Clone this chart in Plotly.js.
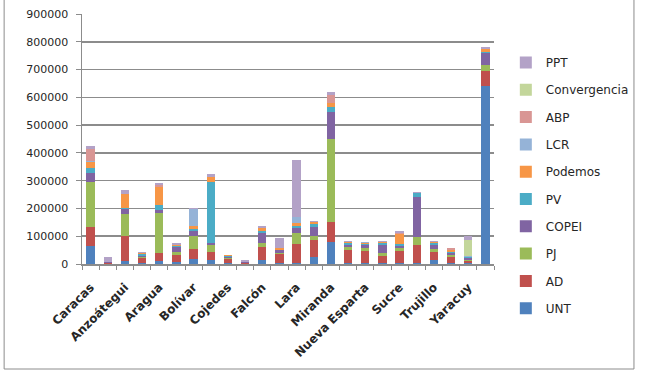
<!DOCTYPE html>
<html>
<head>
<meta charset="utf-8">
<script src="https://cdn.plot.ly/plotly-3.0.1.min.js"></script>
<style>
html,body{margin:0;padding:0;background:#fff;}
#chart{width:646px;height:373px;}
</style>
</head>
<body>
<div id="chart"></div>
<script>
const states = ["Caracas","Amazonas","Anzoátegui","Apure","Aragua","Barinas","Bolívar","Carabobo","Cojedes","Delta Amacuro","Falcón","Guárico","Lara","Mérida","Miranda","Monagas","Nueva Esparta","Portuguesa","Sucre","Táchira","Trujillo","Vargas","Yaracuy","Zulia"];
const shownLabels = ["Caracas","","Anzoátegui","","Aragua","","Bolívar","","Cojedes","","Falcón","","Lara","","Miranda","","Nueva Esparta","","Sucre","","Trujillo","","Yaracuy",""];

const UNT          = [66000,1000,12000,2000,11000,6000,17000,14000,3000,1000,14000,3000,5000,24000,78000,2000,2000,5000,4000,5000,14000,5000,2000,641000];
const AD           = [68000,2000,89000,18000,30000,27000,36000,30000,14000,2000,46000,32000,67000,62000,74000,48000,44000,24000,44000,63000,30000,19000,8000,54000];
const PJ           = [162000,0,78000,5000,141000,9000,48000,24000,4000,0,14000,5000,41000,15000,297000,10000,10000,12000,9000,28000,9000,9000,6000,22000];
const COPEI        = [33000,3000,18000,3000,12000,18000,18000,9000,3000,4000,36000,9000,15000,33000,100000,10000,12000,28000,8000,146000,15000,6000,7000,42000];
const PV           = [15000,0,6000,8000,17000,5000,7000,220000,6000,0,10000,3000,10000,10000,15000,4000,5000,6000,6000,12000,6000,4000,3000,5000];
const Podemos      = [24000,0,49000,2000,65000,3000,12000,15000,2000,0,8000,4000,11000,6000,15000,5000,3000,4000,36000,3000,6000,8000,0,10000];
const LCR          = [3000,0,0,2000,0,2000,60000,0,1000,0,3000,2000,19000,0,0,2000,2000,2000,0,0,0,0,4000,0];
const ABP          = [42000,0,0,0,8000,0,0,0,0,0,0,0,0,0,30000,0,0,0,4000,0,0,5000,0,0];
const Convergencia = [0,0,0,0,0,0,0,0,0,0,0,0,0,0,0,0,0,0,0,0,0,0,56000,0];
const PPT          = [12000,20000,14000,2000,9000,4000,2000,12000,1000,7000,7000,34000,206000,5000,9000,3000,2000,3000,8000,3000,4000,3000,15000,8000];

const seriesNames = ["UNT","AD","PJ","COPEI","PV","Podemos","LCR","ABP","Convergencia","PPT"];
const seriesValues = [UNT,AD,PJ,COPEI,PV,Podemos,LCR,ABP,Convergencia,PPT];
const seriesColors = ["#4F81BD","#C0504D","#9BBB59","#8064A2","#4BACC6","#F79646","#95B3D7","#D99694","#C3D69B","#B3A2C7"];

const traces = seriesNames.map((n,i)=>({
  type:"bar",
  name:n,
  x:states,
  y:seriesValues[i],
  marker:{color:seriesColors[i], line:{width:0}},
  legendgroup:n,
  legendrank:(seriesNames.length - i),
  hoverinfo:"name+y"
}));

const L=82, R=500, T=14, B=264;
const W=R-L, H=B-T;
const px = v => (v-L)/W;
const py = v => (B-v)/H;

const layout = {
  width:646, height:373,
  margin:{l:L, r:646-R, t:T, b:373-B},
  paper_bgcolor:"#fff", plot_bgcolor:"#fff",
  barmode:"stack",
  bargap:0.52,
  font:{family:"DejaVu Sans", size:12, color:"#262626"},
  xaxis:{
    type:"category",
    tickmode:"array",
    tickvals:states,
    ticktext:shownLabels,
    tickangle:-45,
    tickson:"boundaries",
    ticks:"outside", ticklen:4, tickcolor:"#8c8c8c", tickwidth:1,
    ticklabelstandoff:10,
    showline:true, linecolor:"#8c8c8c", linewidth:1.5,
    showgrid:false,
    tickfont:{family:"DejaVu Sans", size:12, weight:"bold", color:"#262626"},
    automargin:false
  },
  yaxis:{
    range:[0,900000],
    dtick:100000,
    tickformat:"d",
    ticks:"outside", ticklen:5, tickcolor:"#8c8c8c",
    ticklabelstandoff:5,
    showline:true, linecolor:"#8c8c8c", linewidth:1.5,
    gridcolor:"#8c8c8c", gridwidth:1.5,
    zeroline:false,
    tickfont:{family:"DejaVu Sans", size:11, color:"#262626"},
    automargin:false
  },
  showlegend:true,
  legend:{
    x:px(512), xanchor:"left",
    y:py(48), yanchor:"top",
    traceorder:"grouped",
    tracegroupgap:8.3,
    maxheight:340,
    font:{family:"DejaVu Sans", size:12, color:"#262626"},
    bgcolor:"rgba(0,0,0,0)"
  },
  shapes:[{
    type:"rect", xref:"paper", yref:"paper",
    x0:px(3), x1:px(642), y0:py(369), y1:py(-3),
    line:{color:"#8c8c8c", width:1}
  }]
};

Plotly.newPlot("chart", traces, layout, {displayModeBar:false, staticPlot:true});
</script>
</body>
</html>
